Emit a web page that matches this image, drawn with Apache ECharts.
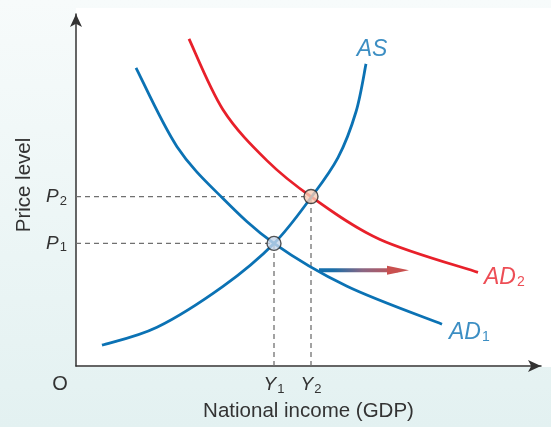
<!DOCTYPE html>
<html>
<head>
<meta charset="utf-8">
<script src="https://cdn.jsdelivr.net/npm/echarts@6/dist/echarts.min.js"></script>
<style>html,body{margin:0;padding:0;}#c{width:551px;height:427px;}</style>
</head>
<body>
<div id="c"></div>
<script>
// ---- data (arbitrary units: income on x, price level on y) ----
const xMax = 465, yMax = 353;
const asCurve  = [[26,21],[81,39],[147,80],[198,123],[235,169],[262,209],[280,255],[290,303]];
const ad1Curve = [[60,299],[101,220],[147,168],[198,123],[271,80],[366,42]];
const ad2Curve = [[113,328],[147,257],[191,206],[235,170],[304,127],[402,94]];
const eq1 = [198,123];
const eq2 = [235,170];
const priceTicks = [123,170];
const priceTickLabels = ['P|1','P|2'];
const incomeTicks = [198,235];
const incomeTickLabels = ['Y|1','Y|2'];
const shiftArrow = [[243,96],[322,96]];
const curveLabels = [
  {name:'AS', at:[296,317], color:'#0b72b4', align:'center'},
  {name:'AD|2', at:[408,89], color:'#e8202a', align:'left'},
  {name:'AD|1', at:[373,34], color:'#0b72b4', align:'left'}
];

const FONT = 'Liberation Sans';
const BLUE = '#0b72b4', RED = '#e8202a';

function sub(s, main, subName){
  const p = s.split('|');
  return p.length > 1 ? '{' + main + '|' + p[0] + '}{' + subName + '|' + p[1] + '}' : '{' + main + '|' + p[0] + '}';
}
function tickRich(){
  return {
    m:{fontFamily:FONT,fontStyle:'italic',fontSize:19,color:'#333',lineHeight:22},
    s:{fontFamily:FONT,fontSize:13,color:'#333',lineHeight:22,padding:[9,0,0,1]}
  };
}

// smooth curve through the data points (Catmull-Rom -> cubic Bezier), positioned by the axes
function curveSeries(points, color){
  return {
    type:'custom', z:3, data:points,
    renderItem:function(params, api){
      if (params.dataIndex !== 0) return null;
      const p = points.map(d => api.coord(d));
      let d = 'M' + p[0][0] + ' ' + p[0][1];
      for (let i = 0; i < p.length - 1; i++){
        const p0 = p[Math.max(i-1,0)], p1 = p[i], p2 = p[i+1], p3 = p[Math.min(i+2,p.length-1)];
        const c1 = [p1[0] + (p2[0]-p0[0])/6, p1[1] + (p2[1]-p0[1])/6];
        const c2 = [p2[0] - (p3[0]-p1[0])/6, p2[1] - (p3[1]-p1[1])/6];
        d += ' C' + c1[0] + ' ' + c1[1] + ' ' + c2[0] + ' ' + c2[1] + ' ' + p2[0] + ' ' + p2[1];
      }
      return {type:'path', shape:{pathData:d}, style:{fill:'none', stroke:color, lineWidth:2.8, lineCap:'butt'}};
    }
  };
}

const chart = echarts.init(document.getElementById('c'), null, {renderer:'canvas'});
const dashed = {color:'#707070', width:1.3, type:[5,4]};
const series = [
  {type:'line', data:[[0,eq1[1]],eq1], symbol:'none', lineStyle:dashed, z:1},
  {type:'line', data:[[0,eq2[1]],eq2], symbol:'none', lineStyle:dashed, z:1},
  {type:'line', data:[[eq1[0],0],eq1], symbol:'none', lineStyle:dashed, z:1},
  {type:'line', data:[[eq2[0],0],eq2], symbol:'none', lineStyle:dashed, z:1},
  curveSeries(ad2Curve, RED),
  curveSeries(ad1Curve, BLUE),
  curveSeries(asCurve, BLUE),
  {type:'line', data:[shiftArrow[0], {value:shiftArrow[1], symbol:'triangle', symbolSize:[9,22], symbolRotate:-90, itemStyle:{color:'#c9504f'}}],
    symbol:'none', showSymbol:true,
    lineStyle:{width:4, color:new echarts.graphic.LinearGradient(0,0,1,0,[{offset:0,color:'#1270b0'},{offset:0.2,color:'#1a6ea8'},{offset:0.55,color:'#8a6683'},{offset:1,color:'#cc5050'}])}, z:4},
  {type:'scatter', data:[{value:eq1,itemStyle:{color:'#c6d6ea'}},{value:eq2,itemStyle:{color:'#f7ccb4'}}],
    symbolSize:14, itemStyle:{borderColor:'#2a2a2a',borderWidth:1.4}, z:5},
  {type:'scatter', symbolSize:0, z:6,
    data: curveLabels.map(c => ({value:c.at, label:{show:true, position:'inside', align:c.align,
      formatter: sub(c.name,'m','s'),
      rich:{m:{fontFamily:FONT,fontStyle:'italic',fontSize:23,color:c.color,lineHeight:26},
            s:{fontFamily:FONT,fontSize:14,color:c.color,lineHeight:26,padding:[10,0,0,1]}}}}))}
];

chart.setOption({
  animation:false,
  backgroundColor:new echarts.graphic.LinearGradient(0,0,0,1,[{offset:0,color:'#f7fbfb'},{offset:1,color:'#e3f1f1'}]),
  grid:{left:76, right:10, top:14, bottom:60},
  xAxis:{type:'value', min:0, max:xMax,
    name:'National income (GDP)', nameLocation:'middle', nameGap:34,
    nameTextStyle:{fontFamily:FONT,fontSize:20.5,color:'#333'},
    axisLine:{show:true, symbol:['none','arrow'], symbolSize:[9,13], lineStyle:{color:'#333',width:1.5}},
    axisTick:{show:false}, splitLine:{show:false},
    axisLabel:{customValues:incomeTicks, margin:8,
      formatter:v => sub(incomeTickLabels[incomeTicks.indexOf(v)],'m','s'), rich:tickRich()}},
  yAxis:{type:'value', min:0, max:yMax,
    axisLine:{show:true, symbol:['none','arrow'], symbolSize:[9,13], lineStyle:{color:'#333',width:1.5}},
    axisTick:{show:false}, splitLine:{show:false},
    axisLabel:{customValues:priceTicks, margin:9,
      formatter:v => sub(priceTickLabels[priceTicks.indexOf(v)],'m','s'), rich:tickRich()}},
  graphic:[
    {type:'rect', z:-100, shape:{x:76,y:8,width:475,height:359}, style:{fill:'#ffffff'}},
    {type:'text', x:60, y:384, style:{text:'O', font:'20px "Liberation Sans"', fill:'#333', align:'center', verticalAlign:'middle'}},
    {type:'text', x:24, y:185, rotation:Math.PI/2, style:{text:'Price level', font:'20.5px "Liberation Sans"', fill:'#333', align:'center', verticalAlign:'middle'}}
  ],
  series:series
});
</script>
</body>
</html>
